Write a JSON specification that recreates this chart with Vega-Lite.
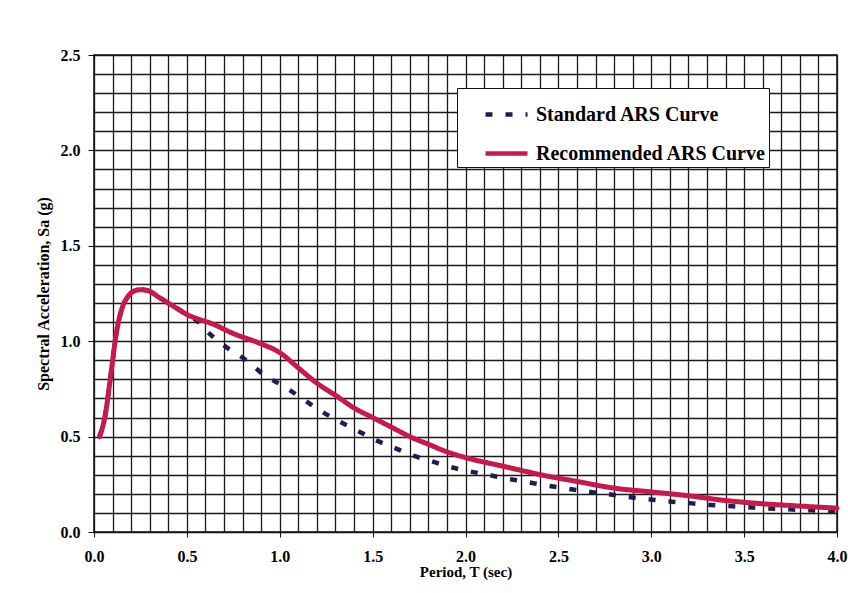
{
  "$schema": "https://vega.github.io/schema/vega-lite/v6.json",
  "width": 743,
  "height": 477,
  "autosize": "none",
  "padding": {"left": 94, "top": 55, "right": 11, "bottom": 61},
  "background": "white",
  "config": {
    "view": {"stroke": "#111111", "strokeWidth": 1.5},
    "font": "Liberation Serif"
  },
  "datasets": {
    "curves": [
      {"T": 0.03, "Sa": 0.50, "series": "Standard ARS Curve"},
      {"T": 0.06, "Sa": 0.61, "series": "Standard ARS Curve"},
      {"T": 0.09, "Sa": 0.82, "series": "Standard ARS Curve"},
      {"T": 0.12, "Sa": 1.04, "series": "Standard ARS Curve"},
      {"T": 0.15, "Sa": 1.17, "series": "Standard ARS Curve"},
      {"T": 0.18, "Sa": 1.23, "series": "Standard ARS Curve"},
      {"T": 0.21, "Sa": 1.26, "series": "Standard ARS Curve"},
      {"T": 0.25, "Sa": 1.27, "series": "Standard ARS Curve"},
      {"T": 0.29, "Sa": 1.265, "series": "Standard ARS Curve"},
      {"T": 0.35, "Sa": 1.23, "series": "Standard ARS Curve"},
      {"T": 0.40, "Sa": 1.20, "series": "Standard ARS Curve"},
      {"T": 0.45, "Sa": 1.17, "series": "Standard ARS Curve"},
      {"T": 0.50, "Sa": 1.14, "series": "Standard ARS Curve"},
      {"T": 0.55, "Sa": 1.11, "series": "Standard ARS Curve"},
      {"T": 0.61, "Sa": 1.05, "series": "Standard ARS Curve"},
      {"T": 0.71, "Sa": 0.97, "series": "Standard ARS Curve"},
      {"T": 0.82, "Sa": 0.90, "series": "Standard ARS Curve"},
      {"T": 0.92, "Sa": 0.82, "series": "Standard ARS Curve"},
      {"T": 1.02, "Sa": 0.765, "series": "Standard ARS Curve"},
      {"T": 1.12, "Sa": 0.70, "series": "Standard ARS Curve"},
      {"T": 1.22, "Sa": 0.635, "series": "Standard ARS Curve"},
      {"T": 1.32, "Sa": 0.58, "series": "Standard ARS Curve"},
      {"T": 1.42, "Sa": 0.53, "series": "Standard ARS Curve"},
      {"T": 1.52, "Sa": 0.48, "series": "Standard ARS Curve"},
      {"T": 1.62, "Sa": 0.44, "series": "Standard ARS Curve"},
      {"T": 1.72, "Sa": 0.40, "series": "Standard ARS Curve"},
      {"T": 1.82, "Sa": 0.37, "series": "Standard ARS Curve"},
      {"T": 1.92, "Sa": 0.34, "series": "Standard ARS Curve"},
      {"T": 2.01, "Sa": 0.32, "series": "Standard ARS Curve"},
      {"T": 2.12, "Sa": 0.30, "series": "Standard ARS Curve"},
      {"T": 2.22, "Sa": 0.28, "series": "Standard ARS Curve"},
      {"T": 2.32, "Sa": 0.264, "series": "Standard ARS Curve"},
      {"T": 2.42, "Sa": 0.246, "series": "Standard ARS Curve"},
      {"T": 2.53, "Sa": 0.23, "series": "Standard ARS Curve"},
      {"T": 2.62, "Sa": 0.217, "series": "Standard ARS Curve"},
      {"T": 2.72, "Sa": 0.204, "series": "Standard ARS Curve"},
      {"T": 2.83, "Sa": 0.19, "series": "Standard ARS Curve"},
      {"T": 2.92, "Sa": 0.178, "series": "Standard ARS Curve"},
      {"T": 3.02, "Sa": 0.168, "series": "Standard ARS Curve"},
      {"T": 3.11, "Sa": 0.159, "series": "Standard ARS Curve"},
      {"T": 3.22, "Sa": 0.150, "series": "Standard ARS Curve"},
      {"T": 3.32, "Sa": 0.142, "series": "Standard ARS Curve"},
      {"T": 3.42, "Sa": 0.136, "series": "Standard ARS Curve"},
      {"T": 3.52, "Sa": 0.130, "series": "Standard ARS Curve"},
      {"T": 3.62, "Sa": 0.124, "series": "Standard ARS Curve"},
      {"T": 3.73, "Sa": 0.119, "series": "Standard ARS Curve"},
      {"T": 3.82, "Sa": 0.115, "series": "Standard ARS Curve"},
      {"T": 3.92, "Sa": 0.112, "series": "Standard ARS Curve"},
      {"T": 4.00, "Sa": 0.108, "series": "Standard ARS Curve"},
      {"T": 0.03, "Sa": 0.50, "series": "Recommended ARS Curve"},
      {"T": 0.06, "Sa": 0.61, "series": "Recommended ARS Curve"},
      {"T": 0.09, "Sa": 0.82, "series": "Recommended ARS Curve"},
      {"T": 0.12, "Sa": 1.04, "series": "Recommended ARS Curve"},
      {"T": 0.15, "Sa": 1.17, "series": "Recommended ARS Curve"},
      {"T": 0.18, "Sa": 1.23, "series": "Recommended ARS Curve"},
      {"T": 0.21, "Sa": 1.26, "series": "Recommended ARS Curve"},
      {"T": 0.25, "Sa": 1.27, "series": "Recommended ARS Curve"},
      {"T": 0.29, "Sa": 1.265, "series": "Recommended ARS Curve"},
      {"T": 0.35, "Sa": 1.23, "series": "Recommended ARS Curve"},
      {"T": 0.40, "Sa": 1.20, "series": "Recommended ARS Curve"},
      {"T": 0.45, "Sa": 1.17, "series": "Recommended ARS Curve"},
      {"T": 0.50, "Sa": 1.14, "series": "Recommended ARS Curve"},
      {"T": 0.55, "Sa": 1.12, "series": "Recommended ARS Curve"},
      {"T": 0.64, "Sa": 1.09, "series": "Recommended ARS Curve"},
      {"T": 0.75, "Sa": 1.04, "series": "Recommended ARS Curve"},
      {"T": 0.89, "Sa": 0.99, "series": "Recommended ARS Curve"},
      {"T": 1.00, "Sa": 0.94, "series": "Recommended ARS Curve"},
      {"T": 1.10, "Sa": 0.86, "series": "Recommended ARS Curve"},
      {"T": 1.20, "Sa": 0.78, "series": "Recommended ARS Curve"},
      {"T": 1.31, "Sa": 0.71, "series": "Recommended ARS Curve"},
      {"T": 1.40, "Sa": 0.65, "series": "Recommended ARS Curve"},
      {"T": 1.50, "Sa": 0.60, "series": "Recommended ARS Curve"},
      {"T": 1.60, "Sa": 0.55, "series": "Recommended ARS Curve"},
      {"T": 1.70, "Sa": 0.50, "series": "Recommended ARS Curve"},
      {"T": 1.80, "Sa": 0.46, "series": "Recommended ARS Curve"},
      {"T": 1.90, "Sa": 0.42, "series": "Recommended ARS Curve"},
      {"T": 2.00, "Sa": 0.39, "series": "Recommended ARS Curve"},
      {"T": 2.20, "Sa": 0.345, "series": "Recommended ARS Curve"},
      {"T": 2.43, "Sa": 0.295, "series": "Recommended ARS Curve"},
      {"T": 2.60, "Sa": 0.265, "series": "Recommended ARS Curve"},
      {"T": 2.80, "Sa": 0.23, "series": "Recommended ARS Curve"},
      {"T": 3.00, "Sa": 0.21, "series": "Recommended ARS Curve"},
      {"T": 3.20, "Sa": 0.19, "series": "Recommended ARS Curve"},
      {"T": 3.40, "Sa": 0.165, "series": "Recommended ARS Curve"},
      {"T": 3.60, "Sa": 0.148, "series": "Recommended ARS Curve"},
      {"T": 3.80, "Sa": 0.136, "series": "Recommended ARS Curve"},
      {"T": 4.00, "Sa": 0.125, "series": "Recommended ARS Curve"}
    ]
  },
  "data": {"name": "curves"},
  "encoding": {
    "x": {
      "field": "T",
      "type": "quantitative",
      "scale": {"domain": [0, 4], "nice": false, "zero": true},
      "axis": {
        "title": "Period, T (sec)",
        "values": [0,0.1,0.2,0.3,0.4,0.5,0.6,0.7,0.8,0.9,1,1.1,1.2,1.3,1.4,1.5,1.6,1.7,1.8,1.9,2,2.1,2.2,2.3,2.4,2.5,2.6,2.7,2.8,2.9,3,3.1,3.2,3.3,3.4,3.5,3.6,3.7,3.8,3.9,4],
        "labelExpr": "abs(datum.value*2 - round(datum.value*2)) < 0.001 ? format(datum.value, '.1f') : ''",
        "labelOverlap": false,
        "labelFlush": false,
        "labelBound": false,
        "labelFont": "Liberation Serif",
        "labelFontSize": 16,
        "labelFontWeight": "bold",
        "labelColor": "#000000",
        "labelPadding": 11,
        "tickSize": 5,
        "tickColor": "#111111",
        "tickOpacity": {"condition": {"test": "abs(datum.value*2 - round(datum.value*2)) < 0.001", "value": 1}, "value": 0},
        "domainColor": "#111111",
        "grid": true,
        "gridColor": "#1a1a1a",
        "gridWidth": 1.3,
        "gridOpacity": 1,
        "titleFont": "Liberation Serif",
        "titleFontSize": 15,
        "titleFontWeight": "bold",
        "titleColor": "#000000",
        "titlePadding": 0
      }
    },
    "y": {
      "field": "Sa",
      "type": "quantitative",
      "scale": {"domain": [0, 2.5], "nice": false, "zero": true},
      "axis": {
        "title": "Spectral Acceleration, Sa (g)",
        "values": [0,0.1,0.2,0.3,0.4,0.5,0.6,0.7,0.8,0.9,1,1.1,1.2,1.3,1.4,1.5,1.6,1.7,1.8,1.9,2,2.1,2.2,2.3,2.4,2.5],
        "labelExpr": "abs(datum.value*2 - round(datum.value*2)) < 0.001 ? format(datum.value, '.1f') : ''",
        "labelOverlap": false,
        "labelFlush": false,
        "labelBound": false,
        "labelFont": "Liberation Serif",
        "labelFontSize": 16,
        "labelFontWeight": "bold",
        "labelColor": "#000000",
        "labelPadding": 8,
        "tickSize": 6,
        "tickColor": "#111111",
        "tickOpacity": {"condition": {"test": "abs(datum.value*2 - round(datum.value*2)) < 0.001", "value": 1}, "value": 0},
        "domainColor": "#111111",
        "grid": true,
        "gridColor": "#1a1a1a",
        "gridWidth": 1.3,
        "gridOpacity": 1,
        "titleFont": "Liberation Serif",
        "titleFontSize": 16,
        "titleFontWeight": "bold",
        "titleColor": "#000000",
        "titlePadding": 9
      }
    },
    "color": {
      "field": "series",
      "type": "nominal",
      "scale": {"domain": ["Standard ARS Curve", "Recommended ARS Curve"], "range": ["#1b1f4d", "#c8194e"]},
      "legend": {
        "title": null,
        "orient": "none",
        "legendX": 363,
        "legendY": 33,
        "direction": "vertical",
        "fillColor": "#ffffff",
        "strokeColor": "#111111",
        "padding": 3,
        "symbolOffset": 23,
        "symbolType": "stroke",
        "symbolSize": 1764,
        "symbolStrokeWidth": 4.5,
        "labelFont": "Liberation Serif",
        "labelFontSize": 20,
        "labelFontWeight": "bold",
        "labelColor": "#000000",
        "labelLimit": 0,
        "labelOffset": 6,
        "rowPadding": 5
      }
    },
    "strokeDash": {
      "field": "series",
      "type": "nominal",
      "scale": {"domain": ["Standard ARS Curve", "Recommended ARS Curve"], "range": [[7, 13], [1, 0]]},
      "legend": null
    }
  },
  "layer": [
    {
      "transform": [{"filter": "datum.series === 'Standard ARS Curve'"}],
      "mark": {"type": "line", "strokeWidth": 4.5, "interpolate": "monotone", "strokeCap": "butt"}
    },
    {
      "transform": [{"filter": "datum.series === 'Recommended ARS Curve'"}],
      "mark": {"type": "line", "strokeWidth": 5, "interpolate": "monotone", "strokeCap": "round"}
    }
  ]
}
